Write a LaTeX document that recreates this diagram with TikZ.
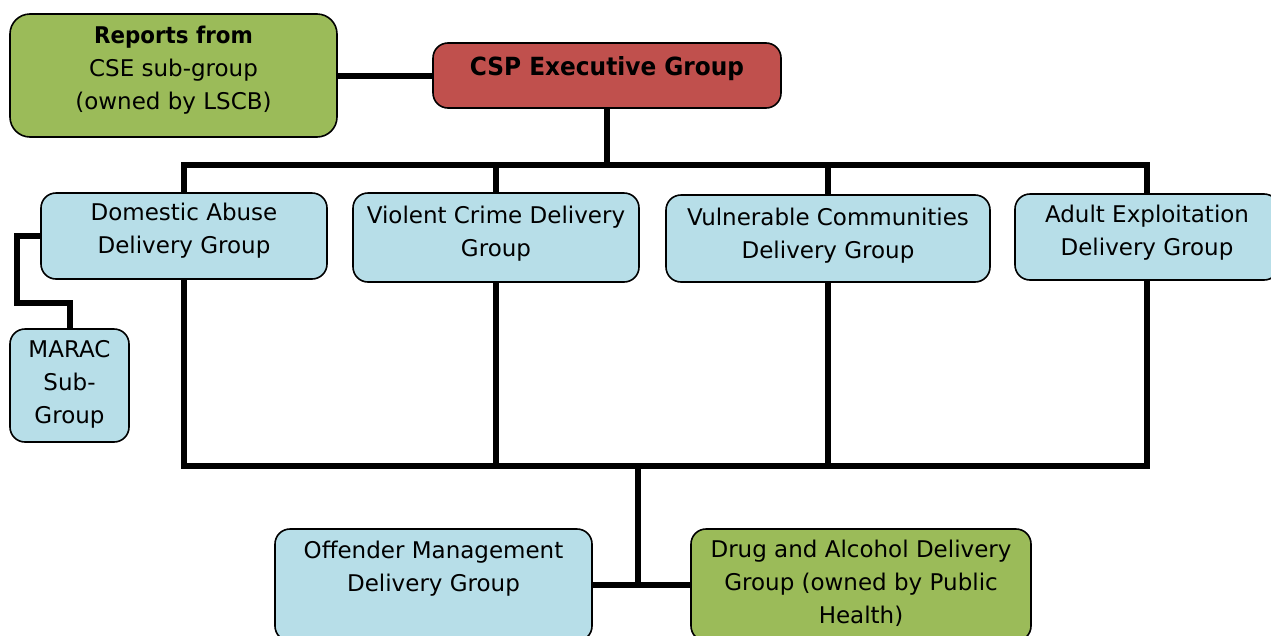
\documentclass[tikz,border=0pt]{standalone}
\usepackage{fontspec}
\setmainfont{DejaVu Sans}
\newfontfamily\boldnarrow[FakeStretch=0.93]{DejaVu Sans Bold}
\definecolor{boxblue}{HTML}{B7DEE8}
\definecolor{boxgreen}{HTML}{9BBB59}
\definecolor{boxred}{HTML}{C0504D}
\tikzset{
  box/.style={draw=black, line width=1.6pt, rounded corners=15pt, inner sep=0pt, outer sep=0pt, anchor=north west},
  bluebox/.style={box, fill=boxblue},
  greenbox/.style={box, fill=boxgreen},
  redbox/.style={box, fill=boxred},
  txt/.style={font=\fontsize{23}{33}\selectfont, align=center, inner sep=0pt},
  link/.style={line width=6pt, draw=black},
}
\begin{document}
\begin{tikzpicture}[x=1pt, y=-1pt]
\useasboundingbox (0,0) rectangle (1271,635);
\clip (0,0) rectangle (1271,635);
% boxes
\node[greenbox, minimum width=327pt, minimum height=123pt, rounded corners=20pt] (rep) at (10,14) {};
\node[redbox, minimum width=348pt, minimum height=65pt] (csp) at (433,43) {};
\node[bluebox, minimum width=286pt, minimum height=86pt] (dom) at (41,193) {};
\node[bluebox, minimum width=286pt, minimum height=89pt] (vio) at (353,193) {};
\node[bluebox, minimum width=324pt, minimum height=87pt] (vul) at (666,195) {};
\node[bluebox, minimum width=264pt, minimum height=86pt] (adu) at (1015,194) {};
\node[bluebox, minimum width=119pt, minimum height=113pt] (mar) at (10,329) {};
\node[bluebox, minimum width=317pt, minimum height=112pt] (off) at (275,529) {};
\node[greenbox, minimum width=340pt, minimum height=112pt] (drg) at (691,529) {};
% texts
\node[txt] (rept) at ([yshift=5pt]rep.center) {{\boldnarrow\bfseries Reports from}\\CSE sub-group\\(owned by LSCB)};
\node[txt, font=\fontsize{25}{30}\boldnarrow\bfseries] (cspt) at ([yshift=7pt]csp.center) {CSP Executive Group};
\node[txt] (domt) at ([yshift=5pt]dom.center) {Domestic Abuse\\Delivery Group};
\node[txt] (viot) at ([yshift=4pt]vio.center) {Violent Crime Delivery\\Group};
\node[txt] (vult) at ([yshift=3pt]vul.center) {Vulnerable Communities\\Delivery Group};
\node[txt] (adut) at ([yshift=4pt]adu.center) {Adult Exploitation\\Delivery Group};
\node[txt] (mart) at ([yshift=1pt]mar.center) {MARAC\\Sub-\\Group};
\node[txt] (offt) at ([yshift=16pt]off.center) {Offender Management\\Delivery Group};
\node[txt] (drgt) at ([yshift=2pt]drg.center) {Drug and Alcohol Delivery\\Group (owned by Public\\Health)};
% connectors
\coordinate (bt) at (607,165);
\coordinate (bb) at (638,466);
\draw[link] (rep.east) -- (csp.west);
\draw[link] (csp.south) -- (csp.south |- bt);
\draw[link] (dom.north) -- (dom.north |- bt) -- (adu.north |- bt) -- (adu.north);
\draw[link] (vio.north) -- (vio.north |- bt);
\draw[link] (vul.north) -- (vul.north |- bt);
\draw[link] (dom.south) -- (dom.south |- bb) -- (adu.south |- bb) -- (adu.south);
\draw[link] (vio.south) -- (vio.south |- bb);
\draw[link] (vul.south) -- (vul.south |- bb);
\draw[link] (bb) -- (bb |- off.east);
\draw[link] (off.east) -- (drg.west);
\draw[link] (dom.west) -| (17,303) -| (mar.north);
\end{tikzpicture}
\end{document}
